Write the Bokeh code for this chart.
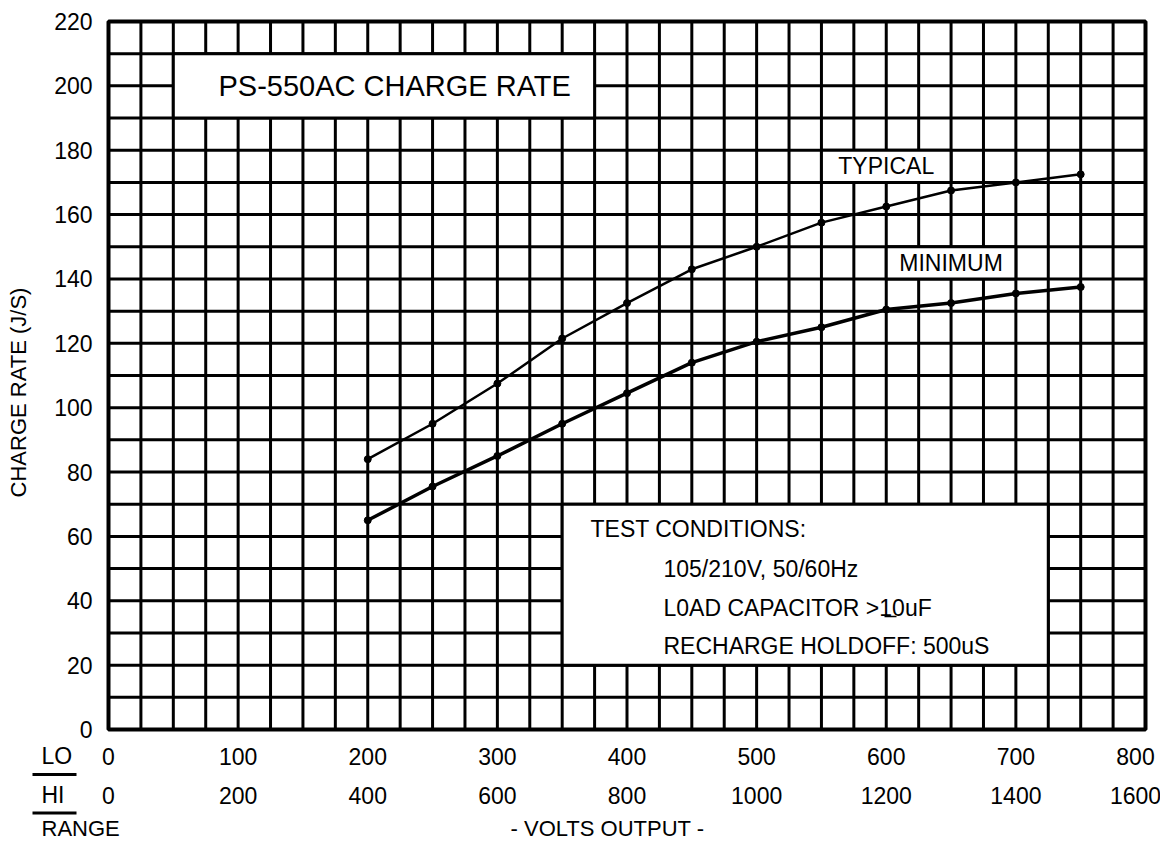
import math
from bokeh.plotting import figure
from bokeh.models import Range1d
from bokeh.embed import file_html
from bokeh.resources import INLINE
from bokeh.core.properties import value

# ---- data ----
volts_lo = [200, 250, 300, 350, 400, 450, 500, 550, 600, 650, 700, 750]
typical = [84, 95, 107.5, 121.5, 132.5, 143, 150, 157.5, 162.5, 167.5, 170, 172.5]
minimum = [65, 75.5, 85, 95, 104.5, 114, 120.5, 125, 130.5, 132.5, 135.5, 137.5]
y_ticks = [0, 20, 40, 60, 80, 100, 120, 140, 160, 180, 200, 220]
lo_ticks = [0, 100, 200, 300, 400, 500, 600, 700, 800]
hi_labels = ["0", "200", "400", "600", "800", "1000", "1200", "1400", "1600"]
title_text = "PS-550AC CHARGE RATE"
conditions = ["TEST CONDITIONS:", "105/210V, 50/60Hz", "L0AD CAPACITOR >10uF", "RECHARGE HOLDOFF: 500uS"]

# ---- layout (pixels) ----
W, H = 1160, 842
FL, FR, FT, FB = 108, 1145, 21, 729          # chart grid box in canvas pixels
XMAX, YMAX = 800, 220
PX = (FR - FL) / XMAX
PY = (FB - FT) / YMAX

def dx(px):
    return (px - FL) / PX

def dy(py):
    return (FB - py) / PY

FONT = "Liberation Sans"
FS = "23px"

p = figure(width=W, height=H,
           x_range=Range1d(dx(0), dx(W)), y_range=Range1d(dy(H), dy(0)),
           x_axis_type=None, y_axis_type=None, title=None,
           output_backend="svg", toolbar_location=None,
           min_border=0, min_border_left=0, min_border_right=0,
           min_border_top=0, min_border_bottom=0)
p.outline_line_color = None
p.background_fill_color = "white"
p.border_fill_color = "white"
p.xgrid.visible = False
p.ygrid.visible = False

# grid lines every 25 V (x) and 10 J/S (y)
gx = list(range(0, XMAX + 1, 25))
gy = list(range(0, YMAX + 1, 10))
p.segment(x0=gx, y0=[0] * len(gx), x1=gx, y1=[YMAX] * len(gx), line_color="black", line_width=3)
p.segment(x0=[0] * len(gy), y0=gy, x1=[XMAX] * len(gy), y1=gy, line_color="black", line_width=3)
p.quad(left=[0], right=[XMAX], bottom=[0], top=[YMAX], fill_color=None, line_color="black", line_width=4)

# white boxes (title, test conditions, curve labels)
p.quad(left=[50, 350, 550, 600], right=[375, 725, 650, 700], bottom=[190, 20, 170, 140],
       top=[210, 70, 180, 150], fill_color="white", line_color="black", line_width=3)

# curves
p.line(volts_lo, typical, line_color="black", line_width=2.5)
p.scatter(volts_lo, typical, size=7, color="black")
p.line(volts_lo, minimum, line_color="black", line_width=3.5)
p.scatter(volts_lo, minimum, size=7, color="black")

def txt(x, y, texts, size=FS, align="left", angle=0.0, x_offset=0):
    p.text(x=x, y=y, text=texts, text_font=value(FONT), text_font_size=size,
           text_color="black", text_align=align, text_baseline="middle", angle=angle,
           x_offset=x_offset)

# tick labels (last one pulled in so it stays on the page, as in the original)
last_shift = [0] * (len(lo_ticks) - 1) + [-10]
txt([dx(92)] * len(y_ticks), y_ticks, [str(v) for v in y_ticks], align="right")
txt(lo_ticks, [dy(755.5)] * len(lo_ticks), [str(v) for v in lo_ticks], align="center", x_offset=last_shift)
txt(lo_ticks, [dy(794.5)] * len(lo_ticks), hi_labels, align="center", x_offset=last_shift)

# annotations
txt([dx(218)], [200], [title_text], size="29px")
txt([600], [175], ["TYPICAL"], align="center")
txt([650], [145], ["MINIMUM"], align="center")
txt([dx(590)], [dy(528)], [conditions[0]])
txt([dx(663)] * 3, [dy(568), dy(607), dy(645)], conditions[1:])
# small underline mark in ">10uF"
p.segment(x0=[dx(884)], y0=[dy(616)], x1=[dx(896)], y1=[dy(616)], line_color="black", line_width=1.5)

txt([dx(18)], [dy(392)], ["CHARGE RATE (J/S)"], size="22px", align="center", angle=math.pi / 2)
txt([dx(41)], [dy(755.5)], ["LO"])
txt([dx(41)], [dy(794.5)], ["HI"])
txt([dx(41)], [dy(828)], ["RANGE"], size="22px")
txt([dx(607)], [dy(828)], ["- VOLTS OUTPUT -"], size="22px", align="center")

# range separator rules under LO and HI
p.segment(x0=[dx(32)] * 2, y0=[dy(774), dy(812.5)], x1=[dx(76)] * 2, y1=[dy(774), dy(812.5)],
          line_color="black", line_width=3)

open("out.html", "w").write(file_html(p, INLINE))
